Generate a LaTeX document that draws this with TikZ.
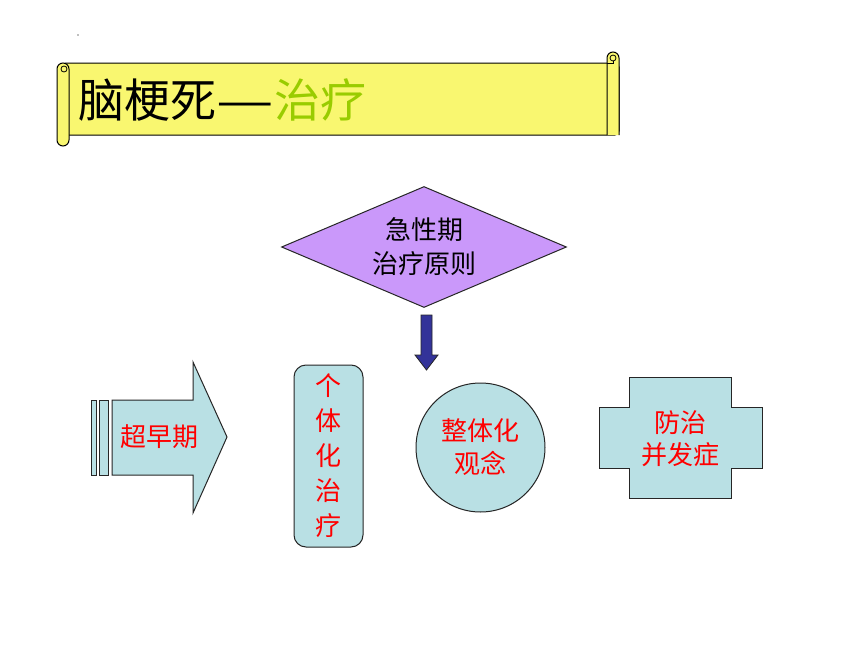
\documentclass[tikz,border=0pt]{standalone}
\usepackage{fontspec}
\setmainfont{Noto Sans CJK SC}
\usetikzlibrary{shapes.geometric}
\definecolor{scrollyellow}{RGB}{249,247,112}
\definecolor{titlegreen}{RGB}{153,204,0}
\definecolor{boxblue}{RGB}{185,224,228}
\definecolor{diamondpurple}{RGB}{202,152,250}
\definecolor{arrowblue}{RGB}{51,51,153}
\tikzset{
  blockfill/.style={fill=boxblue,draw=black!85,line width=1pt},
  redtext/.style={text=red,align=center,font=\fontsize{26}{34}\selectfont},
}
\begin{document}
\begin{tikzpicture}[x=1pt,y=-1pt]
\useasboundingbox[fill=white] (0,0) rectangle (860,645);
\fill[gray] (78,35) circle (0.8);

% scroll banner
\draw[fill=scrollyellow,line width=1pt,rounded corners=4] (62,63) rectangle (619,135);
\draw[fill=scrollyellow,line width=1pt,rounded corners=6] (607,135) -- (607,52) -- (619,52) -- (619,135);
\draw[line width=0.8pt] (613,58) circle (3);
\draw[line width=0.8pt] (607,63) -- (613,63) -- (613,61);
\draw[fill=scrollyellow,line width=1pt,rounded corners=6] (57,63) rectangle (69,146);
\draw[line width=0.8pt] (64,69) circle (3);
\node[anchor=west,font=\fontsize{46}{46}\selectfont] (title) at (75,100) {脑梗死\scalebox{1.4}[1]{—}\textcolor{titlegreen}{治疗}};

% acute phase principles
\node[diamond,draw=black!85,line width=1pt,fill=diamondpurple,inner sep=0pt,shape aspect=2.36,
      minimum width=285,minimum height=121,align=center,
      font=\fontsize{26}{34}\selectfont] (acute) at (424,247) {急性期\\治疗原则};
\draw[fill=arrowblue,draw=black!85,line width=0.8pt] (421,315) -- (432,315) -- (432,355) -- (438,355)
  -- (426.5,370) -- (415,355) -- (421,355) -- cycle;

% early phase arrow
\draw[blockfill] (91,400) rectangle (96,475);
\draw[blockfill] (99,400) rectangle (108,475);
\draw[blockfill] (112,400) -- (193,400) -- (193,362) -- (227,437) -- (193,513) -- (193,475) -- (112,475) -- cycle;
\node[redtext] (early) at (159,437) {超早期};

\node[blockfill,rounded corners=12,minimum width=69,minimum height=182,redtext,
      font=\fontsize{26}{35}\selectfont] (indiv) at (328.5,456) {个\\体\\化\\治\\疗};

\node[circle,blockfill,minimum size=129,inner sep=0pt,redtext,
      font=\fontsize{26}{33}\selectfont] (whole) at (480.5,447.5) {整体化\\观念};

% cross
\draw[blockfill] (629,377) -- (731,377) -- (731,407) -- (762,407) -- (762,468) -- (731,468)
  -- (731,498) -- (629,498) -- (629,468) -- (599,468) -- (599,407) -- (629,407) -- cycle;
\node[redtext,font=\fontsize{26}{32}\selectfont] (prevent) at (680,439) {防治\\并发症};
\end{tikzpicture}
\end{document}
